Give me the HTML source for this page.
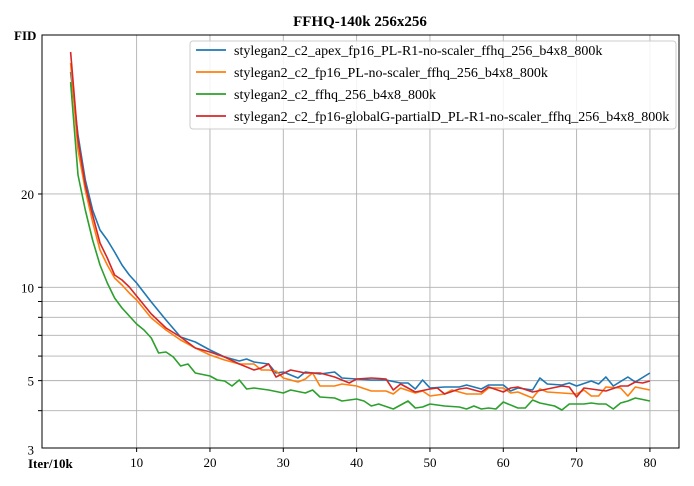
<!DOCTYPE html>
<html><head><meta charset="utf-8"><style>
body{margin:0;background:#fff}
svg{display:block;font-family:"Liberation Serif",serif}
</style></head><body>
<svg id="s" width="694" height="486" viewBox="0 0 694 486" xmlns="http://www.w3.org/2000/svg">
<rect width="694" height="486" fill="#fff"/>
<text x="360" y="26" text-anchor="middle" font-weight="bold" font-size="15">FFHQ-140k 256x256</text>
<g id="grid" stroke="#b0b0b0" stroke-width="0.9"></g>
<g id="series" fill="none" stroke-width="1.6" stroke-linejoin="round"></g>
<rect x="42" y="35" width="637" height="413" fill="none" stroke="#000" stroke-width="1"/>
<g id="ticks" stroke="#000"></g>
<g id="labels" font-size="13"></g>
<text x="14" y="40" font-weight="bold" font-size="13">FID</text>
<text x="28" y="468" font-weight="bold" font-size="13">Iter/10k</text>
<g>
<rect x="190" y="41" width="486" height="88" rx="3" fill="#fff" fill-opacity="0.85" stroke="#ccc"/>
<line x1="196" y1="50" x2="226" y2="50" stroke="#1f77b4" stroke-width="1.8"/>
<line x1="196" y1="72" x2="226" y2="72" stroke="#ff7f0e" stroke-width="1.8"/>
<line x1="196" y1="94" x2="226" y2="94" stroke="#2ca02c" stroke-width="1.8"/>
<line x1="196" y1="116" x2="226" y2="116" stroke="#d62728" stroke-width="1.8"/>
<g font-size="14">
<text x="234" y="55">stylegan2_c2_apex_fp16_PL-R1-no-scaler_ffhq_256_b4x8_800k</text>
<text x="234" y="77">stylegan2_c2_fp16_PL-no-scaler_ffhq_256_b4x8_800k</text>
<text x="234" y="99">stylegan2_c2_ffhq_256_b4x8_800k</text>
<text x="234" y="121">stylegan2_c2_fp16-globalG-partialD_PL-R1-no-scaler_ffhq_256_b4x8_800k</text>
</g></g>
</svg>
<script>
const NS="http://www.w3.org/2000/svg";
function el(p,t,a,txt){const e=document.createElementNS(NS,t);for(const k in a)e.setAttribute(k,a[k]);if(txt)e.textContent=txt;document.getElementById(p).appendChild(e);}
const X=x=>63.3+7.333*x, Y=v=>287.3-310*Math.log10(v/10);
for(let x=10;x<=80;x+=10){el("grid","line",{x1:X(x),x2:X(x),y1:35,y2:448});el("ticks","line",{x1:X(x),x2:X(x),y1:448,y2:452});el("labels","text",{x:X(x),y:467,"text-anchor":"middle"},""+x);}
[4,5,6,7,8,9,10,20].forEach(v=>{el("grid","line",{x1:42,x2:679,y1:Y(v),y2:Y(v)});el("ticks","line",{x1:38,x2:42,y1:Y(v),y2:Y(v)});});
[3,5,10,20].forEach(v=>el("labels","text",{x:34,y:Y(v)+5,"text-anchor":"end"},""+v));
const S={
"#1f77b4":[[1,72],[2,135],[3,180],[4,210],[5,230],[6,240],[7,252],[8,265],[9,275],[10,283],[12,302],[14,320],[16,337],[18,342],[20,350],[22,357],[24,361],[25,359],[26,362],[28,364],[29,373],[30,372],[32,378],[33,372],[35,374],[37,372],[38,378],[40,379],[42,380],[44,380],[46,383],[47,383],[48,389],[49,380],[50,388],[52,387],[54,387],[55,385],[57,389],[58,385],[60,385],[61,391],[62,388],[64,390],[65,378],[66,384],[68,385],[69,383],[70,386],[72,381],[73,384],[74,377],[75,386],[77,377],[78,382],[80,373]],
"#ff7f0e":[[1,63],[2,150],[3,190],[4,222],[5,250],[6,265],[7,278],[8,285],[9,293],[10,300],[12,318],[14,330],[16,340],[18,348],[20,355],[22,360],[24,364],[26,364],[27,370],[28,370],[29,371],[30,378],[32,382],[33,379],[34,373],[35,386],[37,386],[38,384],[40,386],[42,391],[44,391],[45,394],[46,388],[48,393],[49,391],[50,396],[52,394],[53,390],[55,394],[57,394],[58,388],[60,388],[61,393],[62,392],[64,398],[65,389],[66,392],[68,393],[70,394],[71,390],[72,396],[73,396],[74,387],[76,388],[77,396],[78,387],[80,390]],
"#2ca02c":[[1,82],[2,175],[3,210],[4,240],[5,265],[6,283],[7,298],[8,308],[9,316],[10,324],[11,330],[12,338],[13,353],[14,352],[15,357],[16,366],[17,364],[18,373],[20,376],[21,380],[22,381],[23,386],[24,380],[25,389],[26,388],[28,390],[30,393],[31,390],[33,393],[34,390],[35,397],[37,398],[38,401],[40,399],[41,401],[42,406],[43,404],[45,409],[47,401],[48,408],[49,407],[50,404],[52,406],[54,407],[55,409],[56,406],[57,409],[58,408],[59,409],[60,402],[62,408],[63,408],[64,400],[65,403],[67,406],[68,410],[69,404],[71,404],[72,403],[73,404],[74,404],[75,409],[76,403],[77,401],[78,398],[80,401]],
"#d62728":[[1,52],[2,140],[3,185],[4,215],[5,243],[6,258],[7,275],[8,280],[9,287],[10,296],[12,314],[14,328],[16,337],[18,348],[20,352],[22,357],[24,364],[26,370],[27,368],[28,364],[29,377],[31,370],[33,373],[35,373],[37,377],[39,383],[40,379],[42,378],[44,379],[45,390],[46,384],[48,392],[50,389],[51,388],[52,394],[54,389],[55,388],[57,392],[58,387],[60,392],[61,388],[62,387],[64,392],[66,389],[68,386],[69,387],[70,397],[71,388],[74,391],[76,386],[77,386],[78,382],[79,383],[80,381]]};
for(const c in S)el("series","polyline",{stroke:c,points:S[c].map(p=>X(p[0]).toFixed(1)+","+p[1]).join(" ")});
</script>
</body></html>
